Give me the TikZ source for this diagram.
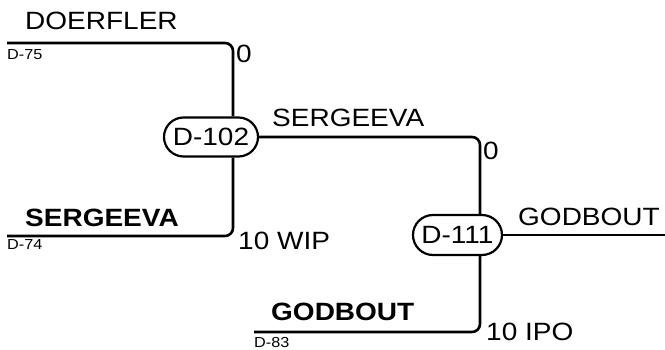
\documentclass[tikz,border=0pt]{standalone}
\usepackage{fontspec}
\setmainfont{Liberation Sans}[FakeStretch=1.12]
\usetikzlibrary{shapes.misc}
\begin{document}
\begin{tikzpicture}[x=1pt,y=-1pt,
  nd/.style={draw,line width=2.2pt,rounded rectangle,inner sep=0pt,font=\fontsize{25}{25}\selectfont},
  ln/.style={line width=2.6pt,rounded corners=8pt},
  lab/.style={anchor=base west,inner sep=0pt,font=\fontsize{25}{25}\selectfont},
  blab/.style={lab,font=\fontsize{25}{25}\selectfont\bfseries},
  slab/.style={anchor=base west,inner sep=0pt,font=\fontsize{14.5}{14.5}\selectfont}]
\useasboundingbox (0,0) rectangle (665,350);
\node[nd,minimum width=94pt,minimum height=39pt] (n102) at (211,137) {D-102};
\node[nd,minimum width=89pt,minimum height=40pt] (n111) at (457.5,235) {D-111};
\coordinate (d75) at (7,43);
\coordinate (d74) at (7,236);
\coordinate (d83) at (254,332);
\coordinate (j102) at (233,0);
\coordinate (j111) at (480,0);
\coordinate (outR) at (665,235);
\draw[ln] (d75) -| (n102.north -| j102);
\draw[ln] (d74) -| (n102.south -| j102);
\draw[ln] (n102.east) -| (n111.north -| j111);
\draw[ln] (d83) -| (n111.south -| j111);
\draw[ln] (n111.east) -- (outR);
\node[lab] (t1) at (25,30) {DOERFLER};
\node[slab] (t2) at (7,60) {D-75};
\node[lab] (t3) at (236,63) {0};
\node[lab] (t4) at (272,127) {SERGEEVA};
\node[lab] (t5) at (483,160) {0};
\node[blab] (t6) at (25,227) {SERGEEVA};
\node[slab] (t7) at (7,250) {D-74};
\node[lab] (t8) at (238,250) {10 WIP};
\node[lab] (t9) at (518,226) {GODBOUT};
\node[blab] (t10) at (271,320) {GODBOUT};
\node[slab] (t11) at (254,347) {D-83};
\node[lab] (t12) at (486,341) {10 IPO};
\end{tikzpicture}
\end{document}
